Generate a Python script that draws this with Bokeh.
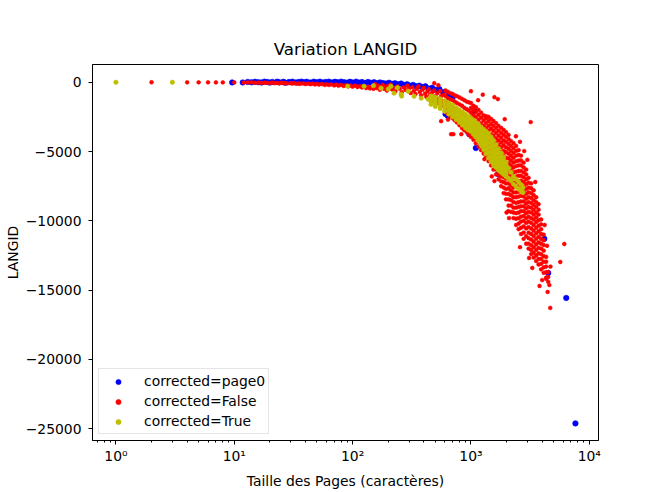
from bokeh.plotting import figure
from bokeh.models import Range1d, FixedTicker
from bokeh.embed import file_html
from bokeh.resources import INLINE

# ---------------- data ----------------
# corrected=page0 (blue)
blue_x = [9.6, 11.8, 13, 14, 15, 16, 17, 18, 19, 20, 21, 23,
          24, 26, 27, 29, 31, 33, 35, 37, 39, 41,
          44, 47, 50, 53, 56, 59, 63, 67, 71, 75,
          80, 85, 90, 95, 100, 107, 113, 120, 127, 135,
          143, 152, 161, 170, 180, 191, 203, 215, 228, 242,
          257, 272, 289, 306, 325, 345, 366, 388, 412, 437,
          470, 500, 540, 580, 650, 700,
          610, 640, 1070, 970, 1100, 1700, 4170, 4500, 6390, 7640]
blue_y = [-20, -20, 20, -10, 30, 0, -20, 40, 10, -30, 20, 40,
          -10, 30, -40, 10, 40, -20, 20, 40, -10, 30,
          -30, 40, 0, 40, -30, 20, 40, -20, 30, -10,
          40, 0, -40, 30, -20, 40, -30, 10, -60, 20,
          -40, 0, -80, -20, -60, -100, -40, -120, -80, -150,
          -100, -200, -150, -250, -200, -300, -250, -350, -300, -450,
          -400, -550, -500, -700, -900, -1100,
          -2300, -2450, -2090, -3750, -4750, -6630, -11300, -13760, -15560, -24610]

# corrected=False (red): isolated short pages
red_a_x = [2, 4, 5, 6, 7, 8, 10, 12]
red_a_y = [-5, -8, -10, -10, -15, -15, -20, -25]

# red: thin part of the band
red_b_x = [13, 14, 15, 16, 17, 18, 19, 20, 21, 22,
           23, 24, 25, 26, 27, 28, 30, 31, 32, 34,
           35, 36, 38, 40, 42, 44, 46, 48, 50, 52,
           55, 58, 60, 63, 66, 70, 73, 76, 80, 84,
           88, 92, 96, 100, 105, 110, 115, 120, 125, 130,
           135, 140, 145, 150]
red_b_y = [-20, -10, -40, -25, -50, -30, -45, -60, -35, -70,
           -50, -80, -40, -75, -60, -90, -70, -100, -60, -110,
           -80, -120, -90, -130, -100, -140, -110, -160, -120, -170,
           -130, -190, -150, -200, -160, -230, -170, -250, -200, -270,
           -210, -300, -240, -320, -250, -350, -280, -380, -300, -420,
           -330, -450, -350, -480]

red_c_x = [155, 160, 165, 170, 175, 180, 185, 190, 195, 200,
           210, 215, 220, 230, 240, 250, 260, 270, 280, 290,
           300, 310, 320, 330, 340, 350, 360, 370, 380, 390,
           400, 410, 420, 430, 440, 450, 460, 470, 480, 490,
           500, 510, 520, 530, 540, 550, 560, 570, 580, 590]
red_c_y = [-150, -420, -250, -550, -320, -200, -480, -350, -600, -250,
           -180, -520, -380, -650, -300, -470, -720, -380, -560, -250,
           -450, -780, -350, -620, -850, -480, -300, -700, -950, -550,
           -400, -820, -1050, -650, -500, -900, -1200, -750, -1350, -600,
           -1000, -1450, -800, -1200, -1550, -650, -1000, -1350, -1650, -900]

# red: wide part of the band, per page size
band_x = [610, 640, 670, 700, 730, 760, 800, 840, 880, 920, 960,
          1000, 1050, 1100, 1160, 1220, 1280, 1340, 1410, 1480, 1550,
          1630, 1710, 1800, 1890, 1980, 2080, 2180, 2290, 2410, 2530,
          2650, 2790, 2930, 3070, 3230, 3390, 3560, 3730, 3920, 4120,
          4320, 4500]
band_y = [
    [-600, -1000, -1400, -1800, -2150],
    [-700, -1150, -1550, -1950, -2300],
    [-800, -1250, -1650, -2050, -2450],
    [-850, -1300, -1750, -2200, -2600],
    [-950, -1400, -1900, -2350, -2750],
    [-1000, -1500, -2000, -2500, -2900],
    [-1100, -1600, -2150, -2650, -3100],
    [-1200, -1700, -2250, -2800, -3300],
    [-1300, -1850, -2400, -2950, -3450],
    [-1400, -1950, -2550, -3100, -3600],
    [-1450, -2050, -2650, -3250, -3800],
    [-1500, -1850, -2200, -2550, -2900, -3250, -3600, -3950],
    [-1700, -2000, -2400, -2750, -3100, -3450, -3800, -4150],
    [-1800, -2150, -2500, -2900, -3250, -3650, -4000, -4400],
    [-2000, -2350, -2700, -3100, -3450, -3850, -4250, -4650],
    [-2200, -2550, -2950, -3300, -3700, -4100, -4500, -4900],
    [-2400, -2750, -3150, -3500, -3900, -4300, -4700, -5150],
    [-2450, -2600, -2950, -3300, -3650, -4000, -4350, -4700, -5050, -5400],
    [-2500, -2800, -3150, -3500, -3850, -4250, -4600, -4950, -5350, -5700],
    [-2650, -3000, -3350, -3750, -4100, -4500, -4850, -5250, -5600, -6000],
    [-2800, -3150, -3500, -3850, -4200, -4550, -4900, -5250, -5600, -5950, -6300],
    [-2950, -3300, -3650, -4050, -4400, -4800, -5150, -5550, -5900, -6300, -6650],
    [-3150, -3500, -3850, -4200, -4550, -4900, -5250, -5600, -5950, -6300, -6650, -7000],
    [-3300, -3650, -4000, -4350, -4700, -5050, -5400, -5750, -6100, -6450, -6800, -7150, -7500],
    [-3450, -3800, -4200, -4550, -4950, -5300, -5700, -6050, -6450, -6850, -7200, -7600, -8000],
    [-3600, -3950, -4300, -4700, -5050, -5450, -5800, -6200, -6550, -6950, -7300, -7700, -8050, -8450],
    [-3800, -4100, -4450, -4800, -5150, -5500, -5850, -6250, -6600, -6950, -7300, -7650, -8050, -8450, -8900],
    [-4250, -4600, -4950, -5300, -5650, -6000, -6350, -6700, -7100, -7450, -7800, -8150, -8500, -8900, -9350],
    [-4400, -4750, -5100, -5450, -5800, -6150, -6500, -6850, -7250, -7600, -7950, -8300, -8650, -9050, -9400, -9800],
    [-4600, -4950, -5300, -5700, -6050, -6450, -6800, -7200, -7550, -7950, -8300, -8700, -9050, -9450, -9850, -10300],
    [-4900, -5250, -5650, -6000, -6400, -6750, -7150, -7500, -7900, -8250, -8650, -9000, -9400, -9800, -10200, -10600],
    [-5300, -5650, -6000, -6400, -6750, -7100, -7500, -7850, -8200, -8600, -8950, -9300, -9700, -10050, -10500, -10950],
    [-5800, -6150, -6500, -6850, -7200, -7550, -7900, -8250, -8600, -8950, -9300, -9650, -10000, -10400, -10850, -11300],
    [-6300, -6650, -7000, -7350, -7700, -8050, -8400, -8750, -9100, -9450, -9800, -10150, -10550, -11100, -11650],
    [-6900, -7250, -7600, -7950, -8300, -8650, -9000, -9350, -9700, -10050, -10450, -10850, -11250, -11650, -12000],
    [-7300, -7650, -8000, -8350, -8700, -9050, -9400, -9800, -10150, -10550, -10950, -11350, -11750, -12100, -12400],
    [-7800, -8150, -8500, -8850, -9200, -9550, -9900, -10300, -10700, -11100, -11500, -11900, -12300, -12650],
    [-8300, -8650, -9000, -9400, -9750, -10100, -10500, -10900, -11300, -11700, -12100, -12500, -12900],
    [-8800, -9200, -9550, -9950, -10350, -10750, -11150, -11550, -11950, -12350, -12750, -13150],
    [-9900, -10250, -10600, -10950, -11300, -11650, -12000, -12400, -12750, -13100, -13500],
    [-11000, -11400, -11750, -12150, -12550, -12950, -13350, -13750],
    [-12600, -12950, -13300, -13700, -14100],
    [-13700, -14050, -14400],
]

# red: scattered points around the band
red_out_x = [490, 530, 560, 680, 710, 640, 830, 870, 1000, 1150,
             1260, 1300, 1500, 1580, 1580, 1690, 1930, 2000, 2070, 2100,
             2400, 2600, 2600, 2820, 3000, 3100, 3200, 3300, 3500, 3800,
             4000, 4200, 4330, 4400, 4450, 4600, 4680, 4700, 5690, 6150]
red_out_y = [-70, -220, -2810, -3750, -3750, -2700, -3750, -3400, -650, -1300,
             -900, -5550, -6800, -1080, -7130, -1220, -2670, -9400, -9300, -9800,
             -3900, -4300, -11900, -4970, -5600, -12680, -2880, -13400, -7200, -14700,
             -14270, -10300, -14190, -11800, -15130, -14630, -16280, -13300, -12970, -11670]

# corrected=True (yellow)
yel_x = [1, 3, 91, 125, 150, 174, 200, 211, 224, 240, 257, 260, 295, 331, 380, 435]
yel_y = [-5, -5, -290, -290, -250, -430, -500, -290, -790, -400, -860, -1000, -650, -1010, -1150, -1225]

ycol_x = [460, 500, 550, 600, 650, 700, 750, 800, 850, 900, 950,
          1000, 1050, 1100, 1160, 1220, 1280, 1340, 1410, 1480, 1550,
          1630, 1710, 1800, 1890, 1980, 2080, 2180, 2290, 2410, 2530,
          2650, 2750]
ycol_y = [
    [-1000, -1200, -1400, -1600],
    [-1080, -1300, -1520, -1750],
    [-1200, -1430, -1660, -1900],
    [-1350, -1600, -1850, -2100],
    [-1500, -1770, -2030, -2300],
    [-1650, -1930, -2220, -2500],
    [-1850, -2130, -2420, -2700],
    [-2000, -2300, -2600, -2900],
    [-2150, -2470, -2780, -3100],
    [-2300, -2630, -2970, -3300],
    [-2450, -2780, -3120, -3450],
    [-2600, -2920, -3230, -3550],
    [-2750, -3080, -3420, -3750],
    [-2900, -3250, -3600, -3950],
    [-3050, -3290, -3530, -3770, -4010, -4250],
    [-3250, -3510, -3770, -4030, -4290, -4550],
    [-3400, -3690, -3980, -4270, -4560, -4850],
    [-3550, -3870, -4190, -4510, -4830, -5150],
    [-3700, -4050, -4400, -4750, -5100, -5450],
    [-3950, -4300, -4650, -5000, -5350, -5700],
    [-4200, -4550, -4900, -5250, -5600, -5950],
    [-4500, -4830, -5160, -5490, -5820, -6150],
    [-4800, -5110, -5420, -5730, -6040, -6350],
    [-5100, -5380, -5660, -5940, -6220, -6500],
    [-5400, -5650, -5900, -6150, -6400, -6650],
    [-5800, -6000, -6200, -6400, -6600, -6800],
    [-6200, -6950],
    [-6500, -7100],
    [-6800, -7350],
    [-7000, -7550],
    [-7200, -7700],
    [-7400, -7850],
    [-7600, -7950],
]

x_ticks = [1, 10, 100, 1000, 10000]
x_tick_labels = ["10\u2070", "10\u00b9", "10\u00b2", "10\u00b3", "10\u2074"]
x_minor = [0.7, 0.8, 0.9, 2, 3, 4, 5, 6, 7, 8, 9, 20, 30, 40, 50, 60, 70, 80, 90,
           200, 300, 400, 500, 600, 700, 800, 900, 2000, 3000, 4000, 5000, 6000, 7000, 8000, 9000]
y_ticks = [0, -5000, -10000, -15000, -20000, -25000]
y_tick_labels = ["0", "\u22125000", "\u221210000", "\u221215000", "\u221220000", "\u221225000"]

# ---------------- assemble ----------------
red_x = red_a_x + red_b_x + red_c_x
red_y = red_a_y + red_b_y + red_c_y
for bx, ys in zip(band_x, band_y):
    for by in ys:
        red_x.append(bx)
        red_y.append(by)
red_x += red_out_x
red_y += red_out_y

yellow_x = list(yel_x)
yellow_y = list(yel_y)
for bx, ys in zip(ycol_x, ycol_y):
    for by in ys:
        yellow_x.append(bx)
        yellow_y.append(by)

FONT = "DejaVu Sans"

p = figure(width=658, height=492, x_axis_type="log",
           x_range=Range1d(0.634, 11970), y_range=Range1d(-25844, 1276),
           output_backend="svg", toolbar_location=None,
           min_border_left=92, min_border_right=60, min_border_top=64, min_border_bottom=52,
           title="Variation LANGID", background_fill_color="white", border_fill_color="white")

p.xgrid.visible = False
p.ygrid.visible = False
p.outline_line_color = "black"
p.outline_line_width = 1
p.outline_line_alpha = 1

p.title.align = "center"
p.title.text_font = FONT
p.title.text_font_size = "16.7px"
p.title.text_font_style = "normal"
p.title.text_color = "black"
p.title.standoff = 11

p.scatter(blue_x, blue_y, size=5.5, fill_color="#0000ff", line_color="#0000ff", line_width=0.6,
          legend_label="corrected=page0")
p.scatter(red_x, red_y, size=3.8, fill_color="#ff0000", line_color="#ff0000", line_width=0.6,
          legend_label="corrected=False")
p.scatter(yellow_x, yellow_y, size=4.4, fill_color="#bfbf00", line_color="#bfbf00", line_width=0.6,
          legend_label="corrected=True")

xa = p.xaxis[0]
xa.ticker = FixedTicker(ticks=x_ticks, minor_ticks=x_minor)
xa.major_label_overrides = {t: l for t, l in zip(x_ticks, x_tick_labels)}
xa.axis_label = "Taille des Pages (caract\u00e8res)"
xa.major_label_standoff = 3
xa.axis_label_standoff = 6

ya = p.yaxis[0]
ya.ticker = FixedTicker(ticks=y_ticks, minor_ticks=[])
ya.major_label_overrides = {t: l for t, l in zip(y_ticks, y_tick_labels)}
ya.axis_label = "LANGID"
ya.major_label_standoff = 7
ya.axis_label_standoff = 2

for ax in (xa, ya):
    ax.axis_line_color = "black"
    ax.major_tick_line_color = "black"
    ax.minor_tick_line_color = "black"
    ax.major_tick_out = 4
    ax.major_tick_in = 0
    ax.minor_tick_out = 2
    ax.minor_tick_in = 0
    ax.major_label_text_font = FONT
    ax.major_label_text_font_size = "13.9px"
    ax.major_label_text_color = "black"
    ax.axis_label_text_font = FONT
    ax.axis_label_text_font_size = "13.9px"
    ax.axis_label_text_font_style = "normal"
    ax.axis_label_text_color = "black"

lg = p.legend[0]
lg.location = "bottom_left"
lg.margin = 6
lg.padding = 3
lg.spacing = 2
lg.glyph_width = 32
lg.glyph_height = 13
lg.label_height = 18
lg.label_standoff = 10
lg.label_text_font = FONT
lg.label_text_font_size = "13.9px"
lg.label_text_color = "black"
lg.border_line_color = "#cccccc"
lg.border_line_width = 1
lg.background_fill_alpha = 0.8

open("out.html", "w").write(file_html(p, INLINE))
